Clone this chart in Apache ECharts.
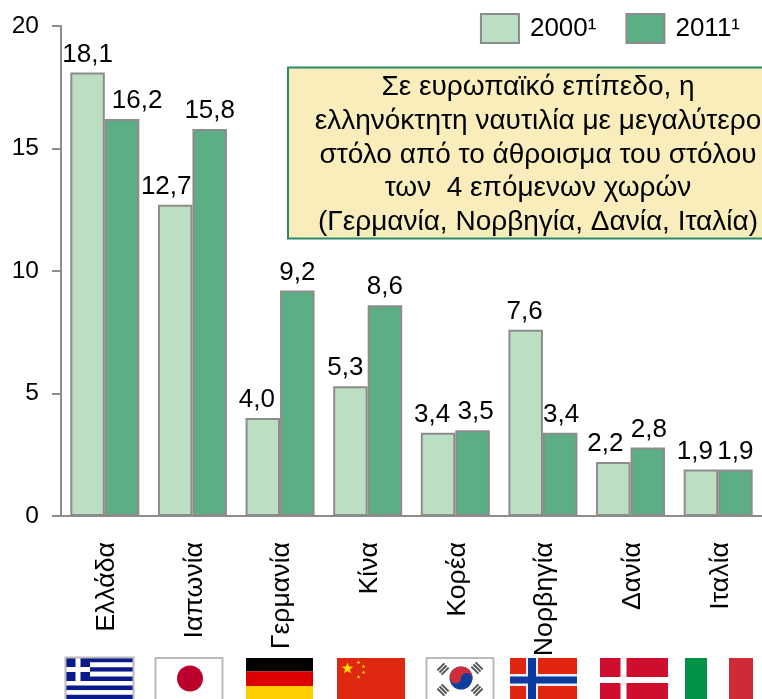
<!DOCTYPE html>
<html>
<head>
<meta charset="utf-8">
<style>html,body{margin:0;padding:0;background:#fff;overflow:hidden}#chart{width:762px;height:699px}</style>
<script src="https://cdn.jsdelivr.net/npm/echarts@6/dist/echarts.min.js"></script>
</head>
<body>
<div id="chart"></div>
<script>
const countries = ['Ελλάδα', 'Ιαπωνία', 'Γερμανία', 'Κίνα', 'Κορέα', 'Νορβηγία', 'Δανία', 'Ιταλία'];
const values2000 = [18.1, 12.7, 4.0, 5.3, 3.4, 7.6, 2.2, 1.9];
const values2011 = [16.2, 15.8, 9.2, 8.6, 3.5, 3.4, 2.8, 1.9];
const noteLines = [
  'Σε ευρωπαϊκό επίπεδο, η',
  'ελληνόκτητη ναυτιλία με μεγαλύτερο',
  'στόλο από το άθροισμα του στόλου',
  'των  4 επόμενων χωρών',
  '(Γερμανία, Νορβηγία, Δανία, Ιταλία)'
];

const font = '"Liberation Sans", Arial, sans-serif';
const axisColor = '#8c8c8c';

// the labels in the original were moved by hand off the bar centres
const labelNudge2000 = [0, -9, -6, -5, -6, -1, -8, -6];
const labelNudge2011 = [15, 0, 0, 0, 3, 1, 1, 0];

function rect(x, y, w, h, fill, stroke) {
  return {type: 'rect', shape: {x: x, y: y, width: w, height: h},
    style: {fill: fill, stroke: stroke || null, lineWidth: stroke ? 2 : 0}};
}
function circle(cx, cy, r, fill) {
  return {type: 'circle', shape: {cx: cx, cy: cy, r: r}, style: {fill: fill}};
}
function star(cx, cy, r, fill) {
  const pts = [];
  for (let i = 0; i < 10; i++) {
    const a = -Math.PI / 2 + i * Math.PI / 5;
    const d = i % 2 ? r * 0.4 : r;
    pts.push([cx + d * Math.cos(a), cy + d * Math.sin(a)]);
  }
  return {type: 'polygon', shape: {points: pts}, style: {fill: fill}};
}

// flags under the axis, they run off the bottom of the picture
function flags() {
  const out = [];
  const top = 658, h = 44;
  // Greece
  for (let i = 0; i < 9; i++) out.push(rect(66, top + i * 4.6, 67, 4.6, i % 2 ? '#fff' : '#0a1a8c'));
  out.push(rect(66, top, 24, 23, '#0a1a8c'), rect(75.5, top, 5, 23, '#fff'), rect(66, top + 9, 24, 5, '#fff'));
  out.push(rect(65.5, top - 0.5, 68, h, null, '#b9b9b9'));
  // Japan
  out.push(rect(155.5, top, 67, h, '#fff', '#b9b9b9'), circle(190, 678.5, 13, '#bc002d'));
  // Germany
  out.push(rect(246, top, 67, 13.5, '#000'), rect(246, top + 13.5, 67, 14.5, '#dd0000'), rect(246, top + 28, 67, 14, '#ffce00'));
  // China
  out.push(rect(337, top, 68, h, '#de2910'), star(347.5, 668.5, 6, '#ffde00'));
  out.push(star(358.5, 662.5, 2, '#ffde00'), star(363.5, 666.5, 2, '#ffde00'), star(363.5, 672.5, 2, '#ffde00'), star(358.5, 677, 2, '#ffde00'));
  // Korea
  out.push(rect(426.5, top, 67, h, '#fff', '#b9b9b9'));
  out.push(circle(461, 678, 11.5, '#0f3f9c'));
  out.push({type: 'sector', shape: {cx: 461, cy: 678, r: 11.5, startAngle: Math.PI * 1.05, endAngle: Math.PI * 2.05}, style: {fill: '#cd2e3a'}});
  out.push(circle(455.5, 678, 5.5, '#cd2e3a'), circle(466.5, 678.5, 5.5, '#0f3f9c'));
  [[443, 669, 45], [477, 668, -45], [443, 690, -45], [477, 690, 45]].forEach(function (t) {
    [-3, 0, 3].forEach(function (d) {
      out.push({type: 'rect', x: t[0], y: t[1], rotation: t[2] * Math.PI / 180,
        shape: {x: -5, y: d - 1, width: 10, height: 2}, style: {fill: '#555'}});
    });
  });
  // Norway
  out.push(rect(510, top, 67, h, '#e0260f'), rect(526, top, 12, h, '#eef'), rect(510, 674, 67, 12, '#eef'));
  out.push(rect(528, top, 8, h, '#0b3a9e'), rect(510, 676.5, 67, 7, '#0b3a9e'));
  // Denmark
  out.push(rect(600, top, 68, h, '#cf0d2f'), rect(620.5, top, 6, h, '#fff'), rect(600, 677, 68, 6, '#fff'));
  // Italy
  out.push(rect(685, top, 22, h, '#009246'), rect(707, top, 22, h, '#fff'), rect(729, top, 24, h, '#ce2b37'));
  return out;
}

// note box, its right side is cut by the picture edge
function noteBox() {
  const out = [{type: 'rect', shape: {x: 288, y: 67.5, width: 500, height: 171},
    style: {fill: '#f9eebb', stroke: '#2b8a68', lineWidth: 2}}];
  noteLines.forEach(function (line, i) {
    out.push({type: 'text', x: 538, y: 87 + i * 33.9,
      style: {text: line, font: '28px ' + font, fill: '#000', align: 'center', verticalAlign: 'middle'}});
  });
  return out;
}

function barData(values, nudge) {
  return values.map(function (v, i) {
    return {value: v, label: {offset: [nudge[i], 0]}};
  });
}

const barLabel = {
  show: true,
  position: 'top',
  distance: 5,
  color: '#000',
  fontFamily: font,
  fontSize: 26,
  formatter: function (p) { return p.value.toFixed(1).replace('.', ','); }
};

const myChart = echarts.init(document.getElementById('chart'), null, {renderer: 'canvas'});
myChart.setOption({
  animation: false,
  backgroundColor: '#fff',
  textStyle: {fontFamily: font},
  grid: {left: 61, top: 26, right: 0, height: 490, containLabel: false},
  legend: {
    right: 17,
    top: 8,
    icon: 'rect',
    itemWidth: 38,
    itemHeight: 29,
    itemGap: 29,
    textStyle: {fontFamily: font, fontSize: 26, color: '#000', padding: [0, 0, 0, 6]},
    data: ['2000¹', '2011¹']
  },
  xAxis: {
    type: 'category',
    data: countries,
    axisLine: {lineStyle: {color: axisColor, width: 2}},
    axisTick: {length: 9, lineStyle: {color: axisColor, width: 2}},
    axisLabel: {rotate: 90, margin: 26, color: '#000', fontFamily: font, fontSize: 26.7, interval: 0, verticalAlign: 'top', lineHeight: 4}
  },
  yAxis: {
    type: 'value',
    min: 0,
    max: 20,
    interval: 5,
    splitLine: {show: false},
    axisLine: {show: true, lineStyle: {color: axisColor, width: 2}},
    axisTick: {show: true, length: 9, lineStyle: {color: axisColor, width: 2}},
    axisLabel: {margin: 22, color: '#000', fontFamily: font, fontSize: 24.5}
  },
  series: [
    {name: '2000¹', type: 'bar', data: barData(values2000, labelNudge2000), barWidth: 34.5, barGap: 0,
      itemStyle: {color: '#bcdfc4', borderColor: axisColor, borderWidth: 2}, label: barLabel},
    {name: '2011¹', type: 'bar', data: barData(values2011, labelNudge2011), barWidth: 34.5, barGap: 0,
      itemStyle: {color: '#5cae84', borderColor: axisColor, borderWidth: 2}, label: barLabel}
  ],
  graphic: {elements: flags().concat(noteBox())}
});
</script>
</body>
</html>
